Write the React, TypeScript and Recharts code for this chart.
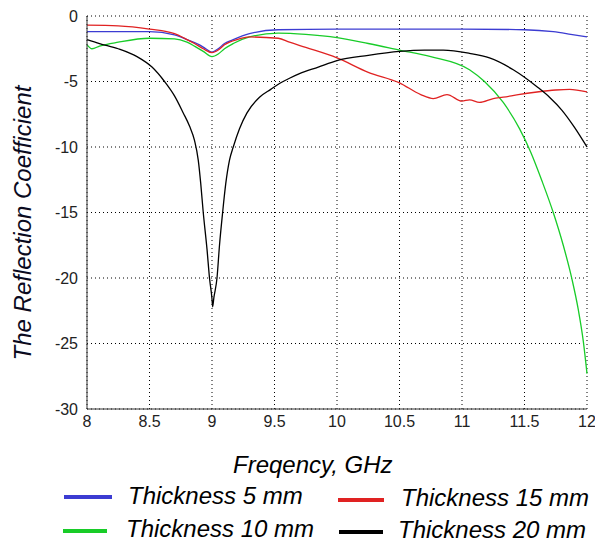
import React from 'react';
import { CartesianGrid, Line, LineChart, XAxis, YAxis } from 'recharts';

const xTicks = [8, 8.5, 9, 9.5, 10, 10.5, 11, 11.5, 12];
const yTicks = [0, -5, -10, -15, -20, -25, -30];

const freq5 = [8, 8.25, 8.5, 8.7, 8.8, 8.9, 8.95, 9.0, 9.05, 9.1, 9.17, 9.3, 9.53, 10, 10.5, 11, 11.5, 11.73, 11.87, 12];
const val5 = [-1.2, -1.2, -1.2, -1.45, -1.8, -2.2, -2.5, -2.75, -2.5, -2.1, -1.8, -1.35, -1.05, -1.0, -1.0, -1.0, -1.05, -1.2, -1.4, -1.6];

const freq10 = [8, 8.04, 8.1, 8.25, 8.5, 8.7, 8.8, 8.86, 8.93, 9.0, 9.05, 9.1, 9.17, 9.3, 9.53, 9.75, 10, 10.25, 10.5, 10.75, 11.06, 11.18, 11.33, 11.46, 11.55, 11.64, 11.73, 11.81, 11.88, 11.93, 11.97, 12];
const val10 = [-2.2, -2.5, -2.3, -2.0, -1.7, -1.75, -2.0, -2.3, -2.7, -3.1, -2.9, -2.5, -2.1, -1.6, -1.3, -1.4, -1.65, -2.1, -2.6, -3.1, -4.1, -5.0, -6.6, -8.6, -10.4, -12.6, -15, -17.5, -20.1, -22.4, -24.8, -27.3];

const freq15 = [8, 8.25, 8.5, 8.7, 8.8, 8.86, 8.93, 9.0, 9.05, 9.1, 9.2, 9.3, 9.53, 9.62, 9.75, 10, 10.25, 10.5, 10.67, 10.77, 10.88, 11.0, 11.06, 11.14, 11.25, 11.33, 11.45, 11.6, 11.75, 11.86, 12];
const val15 = [-0.7, -0.75, -1.0, -1.35, -1.8, -2.1, -2.5, -2.8, -2.6, -2.2, -1.8, -1.6, -1.7, -2.0, -2.4, -3.2, -4.3, -5.1, -6.0, -6.3, -6.0, -6.5, -6.4, -6.6, -6.3, -6.2, -6.0, -5.8, -5.65, -5.6, -5.8];

const freq20 = [8, 8.1, 8.25, 8.4, 8.52, 8.62, 8.7, 8.77, 8.82, 8.86, 8.89, 8.91, 8.93, 8.96, 8.98, 9.0, 9.005, 9.015, 9.04, 9.06, 9.085, 9.11, 9.14, 9.17, 9.22, 9.28, 9.38, 9.47, 9.55, 9.62, 9.7, 9.85, 10, 10.25, 10.5, 10.7, 10.85, 11.06, 11.22, 11.41, 11.6, 11.7, 11.8, 11.9, 12];
const val20 = [-1.8, -2.1, -2.5, -3.1, -3.9, -5.0, -6.1, -7.4, -8.4, -9.5, -11, -12.8, -15, -17.8, -20, -21.6, -22.2, -21.5, -20, -17.5, -15, -12.8, -11, -10, -8.6, -7.4, -6.2, -5.6, -5.1, -4.75, -4.4, -3.9, -3.4, -3.0, -2.7, -2.6, -2.6, -2.85, -3.2, -4.1, -5.4, -6.2, -7.2, -8.5, -10];

const toData = (xs: number[], ys: number[]) => xs.map((f, i) => ({ f, v: ys[i] }));

const series = [
  { name: 'Thickness 5 mm', color: '#3c3cd2', data: toData(freq5, val5) },
  { name: 'Thickness 10 mm', color: '#18cc28', data: toData(freq10, val10) },
  { name: 'Thickness 15 mm', color: '#e02222', data: toData(freq15, val15) },
  { name: 'Thickness 20 mm', color: '#000000', data: toData(freq20, val20) },
];

const font = '"Liberation Sans", Arial, sans-serif';

const legendPos = [
  { lineX: 64, lineW: 48, lineY: 497, textX: 128, textY: 496 },
  { lineX: 63, lineW: 44, lineY: 531, textX: 126, textY: 529 },
  { lineX: 338, lineW: 46, lineY: 500, textX: 401, textY: 498 },
  { lineX: 339, lineW: 44, lineY: 532, textX: 398, textY: 530 },
];

export default function App() {
  return (
    <div style={{ position: 'absolute', left: 0, top: 0, width: 595, height: 544, background: '#fff', fontFamily: font }}>
      <LineChart width={595} height={440} margin={{ top: 16, right: 8, left: 0, bottom: 0 }}>
        <CartesianGrid stroke="#000" strokeDasharray="1 3" strokeWidth={1} />
        <XAxis
          dataKey="f"
          type="number"
          domain={[8, 12]}
          ticks={xTicks}
          height={31}
          stroke="#333"
          tickLine={false}
          tick={{ fill: '#222', fontSize: 16, fontFamily: font }}
          tickMargin={1}
          allowDuplicatedCategory={false}
        />
        <XAxis xAxisId="top" type="number" domain={[8, 12]} orientation="top" height={0} tick={false} tickLine={false} stroke="#333" />
        <YAxis
          dataKey="v"
          type="number"
          domain={[-30, 0]}
          ticks={yTicks}
          width={87}
          stroke="#333"
          tickLine={false}
          tick={{ fill: '#222', fontSize: 16, fontFamily: font }}
          tickMargin={3}
        />
        <YAxis yAxisId="r" type="number" domain={[-30, 0]} orientation="right" width={0} tick={false} tickLine={false} stroke="#333" />
        {series.map(s => (
          <Line
            key={s.name}
            data={s.data}
            dataKey="v"
            type="monotone"
            stroke={s.color}
            strokeWidth={1.3}
            dot={false}
            isAnimationActive={false}
          />
        ))}
      </LineChart>
      <div
        style={{
          position: 'absolute',
          left: 23,
          top: 223,
          transform: 'translate(-50%, -50%) rotate(-90deg)',
          whiteSpace: 'nowrap',
          fontSize: 24,
          fontStyle: 'italic',
          color: '#0a0a1e',
        }}
      >
        The Reflection Coefficient
      </div>
      <div
        style={{
          position: 'absolute',
          left: 233,
          top: 465,
          transform: 'translateY(-50%)',
          whiteSpace: 'nowrap',
          fontSize: 24,
          fontStyle: 'italic',
          color: '#000',
        }}
      >
        Freqency, GHz
      </div>
      {series.map((s, i) => {
        const p = legendPos[i];
        return (
          <React.Fragment key={s.name}>
            <div style={{ position: 'absolute', left: p.lineX, top: p.lineY - 2, width: p.lineW, height: 4, background: s.color }} />
            <div
              style={{
                position: 'absolute',
                left: p.textX,
                top: p.textY,
                transform: 'translateY(-50%)',
                whiteSpace: 'nowrap',
                fontSize: 24,
                fontStyle: 'italic',
                color: '#000',
              }}
            >
              {s.name}
            </div>
          </React.Fragment>
        );
      })}
    </div>
  );
}
